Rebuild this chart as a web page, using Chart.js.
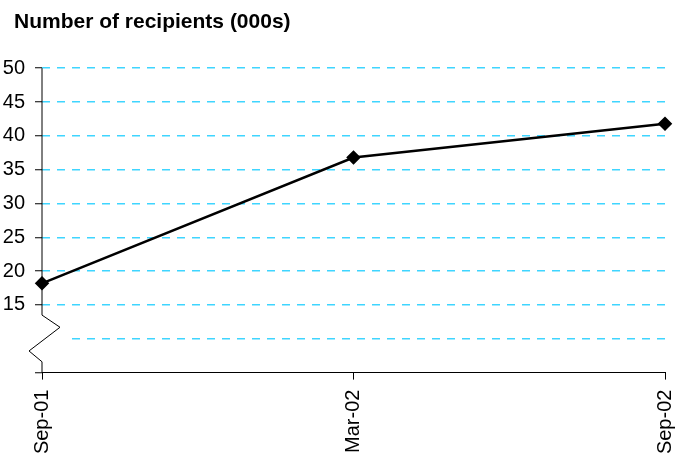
<!DOCTYPE html>
<html lang="en">
  <head>
    <meta charset="UTF-8" />
    <script src="https://cdn.jsdelivr.net/npm/chart.js"></script>
    <title>Number of recipients</title>
    <style>
      * {
        padding: 0;
        margin: 0;
        box-sizing: border-box;
      }
      body {
        background-color: #fff;
      }
      .chart-box {
        width: 683px;
        height: 457px;
      }
    </style>
  </head>
  <body>
    <div class="chart-box">
      <canvas id="myChart"></canvas>
    </div>
    <script>
      const labels = ['Sep-01', 'Mar-02', 'Sep-02'];
      const recipients = [18.2, 36.8, 41.8];
      const yMin = 5;
      const yMax = 50;
      const yStep = 5;
      const firstLabel = 15; // values below this sit in the broken part of the axis

      const gridCyan = '#3fd5ff';
      const font = "'Liberation Sans', Arial, sans-serif";

      // draws the y axis with its zigzag break and the short 10 gridline
      const axisBreak = {
        id: 'axisBreak',
        afterLayout(chart) {
          // title starts a little right of the canvas edge
          chart.titleBlock.left = 14;
        },
        beforeDatasetsDraw(chart) {
          const ctx = chart.ctx;
          const y = chart.scales.y;
          const left = chart.chartArea.left;
          const right = chart.chartArea.right;
          ctx.save();
          ctx.strokeStyle = gridCyan;
          ctx.lineWidth = 1.5;
          ctx.setLineDash([8, 7]);
          ctx.beginPath();
          ctx.moveTo(left + 30, y.getPixelForValue(10));
          ctx.lineTo(right, y.getPixelForValue(10));
          ctx.stroke();

          ctx.setLineDash([]);
          ctx.strokeStyle = '#000';
          ctx.lineWidth = 1;
          ctx.beginPath();
          ctx.moveTo(left, y.top);
          ctx.lineTo(left, y.getPixelForValue(13.5));
          ctx.lineTo(left + 18, y.getPixelForValue(11.7));
          ctx.lineTo(left - 13, y.getPixelForValue(8.2));
          ctx.lineTo(left, y.getPixelForValue(6.6));
          ctx.lineTo(left, y.bottom);
          ctx.stroke();
          ctx.restore();
        },
      };

      const data = {
        labels: labels,
        datasets: [
          {
            data: recipients,
            borderColor: '#000',
            borderWidth: 2.5,
            pointStyle: 'rectRot',
            pointRadius: 5.5,
            pointBackgroundColor: '#000',
            pointBorderColor: '#000',
            tension: 0,
            clip: false,
          },
        ],
      };

      const config = {
        type: 'line',
        data: data,
        options: {
          responsive: true,
          maintainAspectRatio: false,
          animation: false,
          layout: {
            padding: { left: 0, right: 18, top: 0, bottom: 0 },
          },
          plugins: {
            legend: { display: false },
            tooltip: { enabled: false },
            title: {
              display: true,
              text: 'Number of recipients (000s)',
              align: 'start',
              color: '#000',
              font: { family: font, size: 21, weight: 'bold' },
              padding: { top: 10, bottom: 33 },
            },
          },
          scales: {
            x: {
              afterFit: (scale) => {
                scale.height = 84.4;
                scale.paddingLeft = 0;
                scale.paddingRight = 0;
              },
              grid: {
                drawOnChartArea: false,
                drawTicks: true,
                tickLength: 7,
                tickColor: '#000',
              },
              border: { display: true, color: '#000', width: 1 },
              ticks: {
                color: '#000',
                font: { family: font, size: 20 },
                minRotation: 90,
                maxRotation: 90,
                padding: 10,
              },
            },
            y: {
              min: yMin,
              max: yMax,
              afterFit: (scale) => {
                scale.width = 42;
              },
              grid: {
                color: (c) => (c.tick.value >= firstLabel ? gridCyan : 'rgba(0,0,0,0)'),
                lineWidth: 1.5,
                tickLength: 7,
                tickWidth: 1,
                tickColor: (c) => (c.tick.value === 10 ? 'rgba(0,0,0,0)' : '#000'),
                tickBorderDash: [],
              },
              border: { display: false, dash: [8, 7] },
              ticks: {
                stepSize: yStep,
                color: '#000',
                font: { family: font, size: 20 },
                padding: 10,
                callback: (v) => (v >= firstLabel ? v : ''),
              },
            },
          },
        },
        plugins: [axisBreak],
      };

      const myChart = new Chart(document.getElementById('myChart'), config);
    </script>
  </body>
</html>
